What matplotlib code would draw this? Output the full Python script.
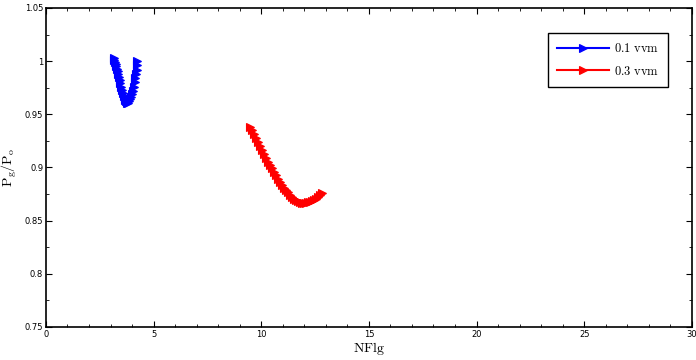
import matplotlib
matplotlib.use("Agg")
import matplotlib.pyplot as plt
from matplotlib.ticker import MultipleLocator

plt.rcParams['mathtext.fontset'] = 'cm'

series_labels = [r'$\mathrm{0.1\ vvm}$', r'$\mathrm{0.3\ vvm}$']
series_colors = ['#0000ff', '#ff0000']

blue_x = [4.25, 4.23, 4.21, 4.18, 4.15, 4.12, 4.09, 4.05, 4.01, 3.97, 3.92, 3.87, 3.82,
          3.77, 3.73, 3.69, 3.65, 3.61, 3.57, 3.53, 3.49, 3.46, 3.42, 3.39, 3.36, 3.33,
          3.30, 3.27, 3.24, 3.21, 3.18, 3.15]
blue_y = [1.000, 0.996, 0.992, 0.988, 0.984, 0.980, 0.976, 0.972, 0.969, 0.966, 0.964, 0.962, 0.961,
          0.961, 0.962, 0.963, 0.965, 0.967, 0.970, 0.973, 0.976, 0.979, 0.982, 0.985, 0.988, 0.991,
          0.993, 0.995, 0.997, 0.999, 1.001, 1.003]

red_x = [9.48, 9.57, 9.66, 9.75, 9.85, 9.94, 10.03, 10.12, 10.22, 10.31, 10.40, 10.50,
         10.59, 10.68, 10.78, 10.87, 10.96, 11.05, 11.15, 11.24, 11.33, 11.42, 11.52, 11.61,
         11.70, 11.80, 11.89, 11.98, 12.08, 12.17, 12.26, 12.36, 12.45, 12.54, 12.63, 12.72, 12.82]
red_y = [0.938, 0.935, 0.9315, 0.928, 0.924, 0.920, 0.9165, 0.913, 0.909, 0.9055, 0.902, 0.899,
         0.896, 0.8925, 0.889, 0.886, 0.883, 0.881, 0.879, 0.8765, 0.874, 0.872, 0.870, 0.869,
         0.868, 0.867, 0.8665, 0.8665, 0.8665, 0.867, 0.8675, 0.868, 0.869, 0.8705, 0.872, 0.874, 0.876]

fig = plt.figure(figsize=(6.96, 3.6), dpi=100)
ax = fig.add_axes([0.066, 0.092, 0.928, 0.886])

for xs, ys, c, lab in [(blue_x, blue_y, series_colors[0], series_labels[0]),
                       (red_x, red_y, series_colors[1], series_labels[1])]:
    ax.plot(xs, ys, color=c, lw=1.5, marker='>', markersize=6, markeredgewidth=0.8,
            markerfacecolor=c, markeredgecolor=c, label=lab)

ax.set_xlim(0, 30)
ax.set_ylim(0.75, 1.05)
ax.xaxis.set_minor_locator(MultipleLocator(1))
ax.yaxis.set_minor_locator(MultipleLocator(0.025))
ax.set_xticks([0, 5, 10, 15, 20, 25, 30])
ax.set_xticklabels(['0', '5', '10', '15', '20', '25', '30'])
ax.set_yticks([0.75, 0.8, 0.85, 0.9, 0.95, 1.0, 1.05])
ax.set_yticklabels(['0.75', '0.8', '0.85', '0.9', '0.95', '1', '1.05'])
ax.tick_params(which='both', direction='in', top=True, right=True, labelsize=6, pad=2)
ax.tick_params(which='major', length=4, width=0.8)
ax.tick_params(which='minor', length=2, width=0.6)
for s in ax.spines.values():
    s.set_linewidth(1.2)

ax.set_xlabel(r'$\mathrm{NFlg}$', fontsize=10, labelpad=1)
ax.set_ylabel(r'$\mathrm{P_g/P_o}$', fontsize=10, labelpad=4)

leg = ax.legend(loc='upper right', bbox_to_anchor=(0.963, 0.922), borderaxespad=0,
                fancybox=False, edgecolor='black', framealpha=1, prop={'size': 9},
                numpoints=1, handlelength=4.1, handletextpad=0.4, borderpad=0.75,
                labelspacing=0.75, markerscale=0.85)
leg.get_frame().set_linewidth(1.0)

fig.savefig('out.png', dpi=100)
